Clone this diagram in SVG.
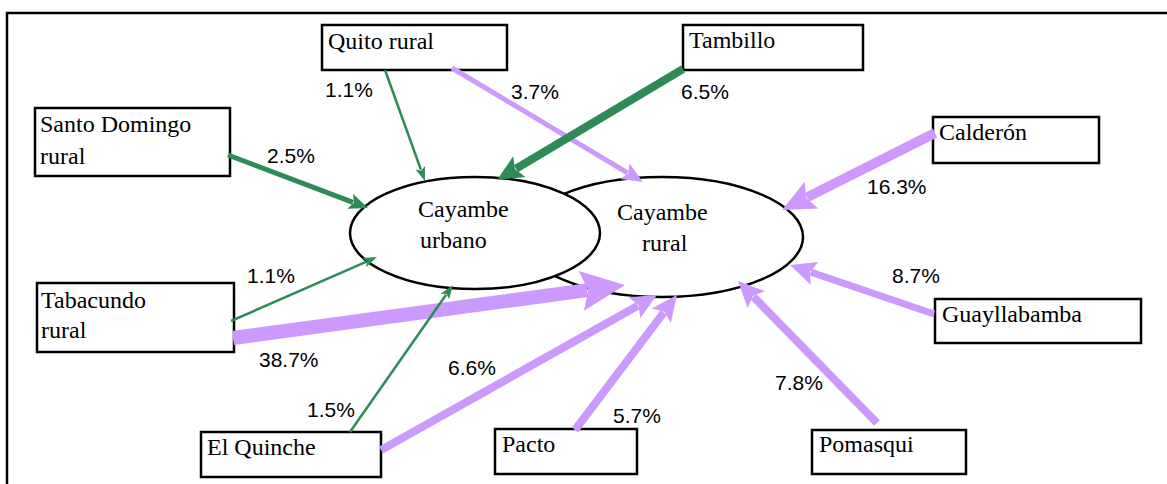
<svg xmlns="http://www.w3.org/2000/svg" width="1167" height="484" viewBox="0 0 1167 484">
<style>
.box{fill:#fff;stroke:#000;stroke-width:2.5}
.ell{fill:#fff;stroke:#000;stroke-width:2.5}
.lbl{font-family:"Liberation Serif","Times New Roman",serif;font-size:24px;fill:#000}
.pct{font-family:"Liberation Sans",Arial,sans-serif;font-size:21px;fill:#000}
.g{stroke:#2e8b57;fill:none;stroke-linecap:butt}
.p{stroke:#cc99ff;fill:none;stroke-linecap:butt}
</style>
<defs>
<marker id="gS" markerUnits="userSpaceOnUse" overflow="visible" orient="auto" refX="0" refY="0" markerWidth="12" markerHeight="10"><path d="M-2,-5 L12,0 L-2,5 L1,0 z" fill="#2e8b57"/></marker>
<marker id="gM" markerUnits="userSpaceOnUse" overflow="visible" orient="auto" refX="0" refY="0" markerWidth="16" markerHeight="16"><path d="M-3,-8 L16,0 L-3,8 L1,0 z" fill="#2e8b57"/></marker>
<marker id="gL" markerUnits="userSpaceOnUse" overflow="visible" orient="auto" refX="0" refY="0" markerWidth="22" markerHeight="24"><path d="M-4,-12 L22,0 L-4,12 L1,0 z" fill="#2e8b57"/></marker>
<marker id="pS" markerUnits="userSpaceOnUse" overflow="visible" orient="auto" refX="0" refY="0" markerWidth="18" markerHeight="18"><path d="M-3,-9 L18,0 L-3,9 L1,0 z" fill="#cc99ff"/></marker>
<marker id="pM" markerUnits="userSpaceOnUse" overflow="visible" orient="auto" refX="0" refY="0" markerWidth="22" markerHeight="24"><path d="M-4,-12 L22,0 L-4,12 L1,0 z" fill="#cc99ff"/></marker>
<marker id="pL" markerUnits="userSpaceOnUse" overflow="visible" orient="auto" refX="0" refY="0" markerWidth="28" markerHeight="30"><path d="M-5,-15 L28,0 L-5,15 L1,0 z" fill="#cc99ff"/></marker>
<marker id="pXL" markerUnits="userSpaceOnUse" overflow="visible" orient="auto" refX="0" refY="0" markerWidth="38" markerHeight="40"><path d="M-6,-20 L38,0 L-6,20 L1,0 z" fill="#cc99ff"/></marker>
</defs>
<rect width="1167" height="484" fill="#fff"/>
<g id="frame"><path d="M7,484 L7,13 L1167,13" fill="none" stroke="#000" stroke-width="2.5"/></g>

<g id="cayambe-rural"><ellipse class="ell" cx="662" cy="237" rx="141" ry="60"/>
<text class="lbl" x="617" y="220">Cayambe</text><text class="lbl" x="642" y="251">rural</text></g>
<g id="cayambe-urbano"><ellipse class="ell" cx="475" cy="233" rx="125" ry="56"/>
<text class="lbl" x="418" y="217">Cayambe</text><text class="lbl" x="420" y="248">urbano</text></g>

<g id="quito-rural"><rect class="box" x="322" y="25" width="185" height="45"/><text class="lbl" x="328" y="49">Quito rural</text></g>
<g id="tambillo"><rect class="box" x="683" y="25" width="180" height="45"/><text class="lbl" x="689" y="48">Tambillo</text></g>
<g id="santo-domingo"><rect class="box" x="35" y="108" width="195" height="68"/><text class="lbl" x="40" y="132">Santo Domingo</text><text class="lbl" x="40" y="164">rural</text></g>
<g id="calderon"><rect class="box" x="933" y="117" width="166" height="46"/><text class="lbl" x="939" y="140">Calderón</text></g>
<g id="tabacundo"><rect class="box" x="37" y="283" width="197" height="69"/><text class="lbl" x="41" y="308">Tabacundo</text><text class="lbl" x="41" y="338">rural</text></g>
<g id="guayllabamba"><rect class="box" x="935" y="299" width="206" height="44"/><text class="lbl" x="942" y="322">Guayllabamba</text></g>
<g id="el-quinche"><rect class="box" x="201" y="432" width="180" height="45"/><text class="lbl" x="207" y="455">El Quinche</text></g>
<g id="pacto"><rect class="box" x="495" y="429" width="142" height="45"/><text class="lbl" x="502" y="452">Pacto</text></g>
<g id="pomasqui"><rect class="box" x="812" y="430" width="154" height="44"/><text class="lbl" x="819" y="452">Pomasqui</text></g>

<g id="connectors">
<line class="p" x1="452" y1="68" x2="627.5" y2="172.8" stroke-width="5" marker-end="url(#pS)"/>
<line class="p" x1="935" y1="133" x2="807" y2="197.4" stroke-width="10" marker-end="url(#pL)"/>
<line class="p" x1="233" y1="338" x2="587.3" y2="290.1" stroke-width="14" marker-end="url(#pXL)"/>
<line class="p" x1="381" y1="450" x2="637.8" y2="305.8" stroke-width="8" marker-end="url(#pM)"/>
<line class="p" x1="575" y1="430" x2="663.7" y2="312.6" stroke-width="8" marker-end="url(#pM)"/>
<line class="p" x1="877" y1="423" x2="753.4" y2="296.7" stroke-width="8" marker-end="url(#pM)"/>
<line class="p" x1="934" y1="314" x2="810.8" y2="272.1" stroke-width="7" marker-end="url(#pM)"/>
<line class="g" x1="385" y1="70" x2="420.9" y2="169.7" stroke-width="2.5" marker-end="url(#gS)"/>
<line class="g" x1="683" y1="69" x2="515.9" y2="168.7" stroke-width="8" marker-end="url(#gL)"/>
<line class="g" x1="228" y1="155" x2="353" y2="202.3" stroke-width="5" marker-end="url(#gM)"/>
<line class="g" x1="231" y1="321" x2="366" y2="261.8" stroke-width="2.5" marker-end="url(#gS)"/>
<line class="g" x1="350" y1="432" x2="446.1" y2="294.8" stroke-width="2.5" marker-end="url(#gS)"/>
</g>

<g id="labels">
<text class="pct" x="325" y="97">1.1%</text>
<text class="pct" x="267" y="163">2.5%</text>
<text class="pct" x="511" y="99">3.7%</text>
<text class="pct" x="681" y="99">6.5%</text>
<text class="pct" x="867" y="194">16.3%</text>
<text class="pct" x="247" y="283">1.1%</text>
<text class="pct" x="892" y="283">8.7%</text>
<text class="pct" x="259" y="367">38.7%</text>
<text class="pct" x="448" y="375">6.6%</text>
<text class="pct" x="775" y="390">7.8%</text>
<text class="pct" x="307" y="417">1.5%</text>
<text class="pct" x="613" y="423">5.7%</text>
</g>
</svg>
